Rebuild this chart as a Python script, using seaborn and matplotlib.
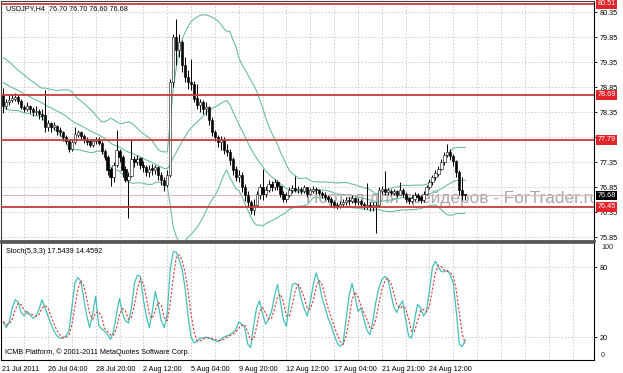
import numpy as np
import pandas as pd
import matplotlib
matplotlib.use("Agg")
import matplotlib.pyplot as plt
import seaborn as sns

# ---------------- data ----------------
symbol_title = "USDJPY,H4  76.70 76.70 76.60 76.68"
stoch_title = "Stoch(5,3,3) 17.5439 14.4592"
copyright_text = "ICMB Platform, \u00a9 2001-2011 MetaQuotes Software Corp."
watermark = "\u041f\u043e\u0440\u0442\u0430\u043b \u0434\u043b\u044f \u0442\u0440\u0435\u0439\u0434\u0435\u0440\u043e\u0432 - ForTrader.ru"

opens = [78.70, 78.48, 78.55, 78.60, 78.62, 78.66, 78.58, 78.45, 78.42, 78.47,
         78.40, 78.35, 78.38, 78.32, 78.30, 78.05, 78.12, 78.05, 78.08, 77.98,
         77.95, 77.85, 77.78, 77.62, 77.75, 77.90, 77.95, 77.88, 77.80, 77.76,
         77.70, 77.78, 77.82, 77.74, 77.58, 77.45, 77.20, 77.05, 77.30, 77.58,
         77.45, 77.20, 77.00, 77.08, 77.40, 77.35, 77.42, 77.30, 77.25, 77.15,
         77.22, 77.18, 77.25, 77.10, 77.00, 76.90, 77.10, 78.95, 79.85, 79.60,
         79.75, 79.30, 79.05, 78.95, 78.90, 78.62, 78.50, 78.55, 78.40, 78.45,
         78.20, 77.95, 77.85, 77.75, 77.80, 77.60, 77.55, 77.40, 77.20, 77.05,
         77.10, 76.85, 76.70, 76.55, 76.40, 76.50, 76.70, 76.85, 76.72, 76.80,
         76.92, 76.85, 76.95, 76.88, 76.72, 76.62, 76.68, 76.80, 76.84, 76.80,
         76.82, 76.78, 76.84, 76.72, 76.78, 76.82, 76.80, 76.74, 76.70, 76.66,
         76.62, 76.55, 76.50, 76.48, 76.52, 76.55, 76.60, 76.58, 76.62, 76.56,
         76.58, 76.52, 76.48, 76.50, 76.45, 76.48, 76.50, 76.78, 76.82, 76.75,
         76.78, 76.74, 76.76, 76.70, 76.80, 76.72, 76.62, 76.58, 76.62, 76.70,
         76.66, 76.60, 76.72, 76.85, 76.95, 77.05, 77.12, 77.22, 77.35, 77.50,
         77.55, 77.48, 77.38, 77.15, 76.80, 76.70]
highs = [78.83, 78.62, 78.68, 78.72, 78.74, 78.70, 78.62, 78.50, 78.55, 78.50,
         78.45, 78.48, 78.42, 78.40, 78.80, 78.18, 78.15, 78.16, 78.10, 78.05,
         77.98, 77.90, 77.82, 77.80, 78.05, 78.00, 77.98, 77.92, 77.85, 77.80,
         77.82, 77.86, 77.85, 77.78, 77.62, 77.50, 77.25, 77.35, 78.00, 77.62,
         77.50, 77.28, 77.15, 77.81, 77.48, 77.50, 77.45, 77.38, 77.30, 77.30,
         77.32, 77.30, 77.28, 77.15, 77.05, 77.20, 79.02, 79.92, 80.21, 79.92,
         79.80, 79.45, 79.20, 79.40, 78.98, 78.92, 78.62, 78.60, 78.55, 78.48,
         78.25, 78.00, 77.90, 77.88, 77.85, 77.72, 77.62, 77.45, 77.28, 77.20,
         77.15, 76.92, 76.78, 76.60, 76.62, 76.78, 76.92, 77.21, 76.88, 77.00,
         76.98, 77.02, 77.00, 76.90, 76.78, 76.75, 76.85, 76.90, 77.07, 76.88,
         76.86, 76.90, 76.86, 76.84, 76.88, 76.86, 76.82, 76.78, 76.75, 76.70,
         76.66, 76.60, 76.56, 76.58, 76.62, 76.66, 76.65, 76.68, 76.65, 76.64,
         76.62, 76.56, 76.94, 76.55, 76.55, 76.56, 76.85, 76.88, 77.17, 76.84,
         76.82, 76.82, 76.80, 76.95, 76.84, 76.75, 76.66, 76.70, 76.76, 76.74,
         76.70, 76.78, 76.90, 77.02, 77.10, 77.20, 77.28, 77.42, 77.56, 77.71,
         77.62, 77.52, 77.40, 77.20, 77.04, 76.70]
lows = [78.33, 78.42, 78.50, 78.55, 78.58, 78.52, 78.40, 78.36, 78.38, 78.34,
        78.28, 78.30, 78.22, 78.20, 77.95, 77.98, 77.95, 78.00, 77.90, 77.88,
        77.78, 77.72, 77.55, 77.58, 77.72, 77.85, 77.82, 77.74, 77.70, 77.66,
        77.66, 77.72, 77.70, 77.52, 77.40, 77.10, 76.88, 76.95, 77.25, 77.35,
        77.05, 76.95, 76.24, 77.05, 77.25, 77.30, 77.22, 77.15, 77.08, 77.05,
        77.10, 77.12, 77.00, 76.90, 76.78, 76.85, 77.05, 78.85, 79.30, 79.45,
        79.15, 78.95, 78.82, 78.80, 78.56, 78.40, 78.35, 78.32, 78.30, 78.10,
        77.88, 77.78, 77.65, 77.60, 77.52, 77.48, 77.30, 77.10, 76.98, 76.95,
        76.75, 76.58, 76.45, 76.32, 76.30, 76.45, 76.62, 76.60, 76.65, 76.75,
        76.78, 76.80, 76.80, 76.65, 76.55, 76.56, 76.65, 76.74, 76.75, 76.74,
        76.72, 76.74, 76.66, 76.68, 76.74, 76.72, 76.68, 76.64, 76.60, 76.56,
        76.48, 76.44, 76.42, 76.44, 76.46, 76.50, 76.50, 76.54, 76.50, 76.50,
        76.46, 76.42, 76.42, 76.38, 76.38, 75.93, 76.45, 76.72, 76.70, 76.70,
        76.68, 76.70, 76.65, 76.68, 76.66, 76.56, 76.52, 76.54, 76.58, 76.58,
        76.54, 76.56, 76.68, 76.82, 76.90, 77.00, 77.08, 77.18, 77.30, 77.45,
        77.40, 77.28, 77.05, 76.70, 76.60, 76.60]
closes = [78.48, 78.55, 78.60, 78.62, 78.66, 78.58, 78.45, 78.42, 78.47, 78.40,
          78.35, 78.38, 78.32, 78.28, 78.05, 78.12, 78.05, 78.08, 77.98, 77.95,
          77.85, 77.78, 77.62, 77.75, 77.90, 77.95, 77.88, 77.80, 77.76, 77.70,
          77.78, 77.82, 77.74, 77.58, 77.45, 77.20, 77.05, 77.30, 77.58, 77.45,
          77.20, 77.00, 77.08, 77.40, 77.35, 77.42, 77.30, 77.25, 77.15, 77.22,
          77.18, 77.25, 77.10, 77.00, 76.90, 77.10, 78.95, 79.85, 79.60, 79.75,
          79.30, 79.05, 78.95, 78.90, 78.62, 78.50, 78.55, 78.40, 78.45, 78.20,
          77.95, 77.85, 77.75, 77.80, 77.60, 77.55, 77.40, 77.20, 77.05, 77.10,
          76.85, 76.70, 76.55, 76.40, 76.50, 76.70, 76.85, 76.72, 76.80, 76.92,
          76.85, 76.95, 76.88, 76.72, 76.62, 76.68, 76.80, 76.84, 76.80, 76.82,
          76.78, 76.84, 76.72, 76.78, 76.82, 76.80, 76.74, 76.70, 76.66, 76.62,
          76.55, 76.50, 76.48, 76.52, 76.55, 76.60, 76.58, 76.62, 76.56, 76.58,
          76.52, 76.48, 76.50, 76.45, 76.48, 76.50, 76.78, 76.82, 76.75, 76.78,
          76.74, 76.76, 76.70, 76.80, 76.72, 76.62, 76.58, 76.62, 76.70, 76.66,
          76.60, 76.72, 76.85, 76.95, 77.05, 77.12, 77.22, 77.35, 77.50, 77.55,
          77.48, 77.38, 77.15, 76.80, 76.70, 76.68]
# closes before the first visible bar (feed the Bollinger window)
prior_closes = [79.30, 79.28, 79.25, 79.22, 79.18, 79.15, 79.10, 79.06, 79.02, 78.98,
                78.94, 78.90, 78.86, 78.80, 78.76, 78.72, 78.66, 78.62, 78.55]

stoch_k = [33, 28, 33, 45, 52, 50, 41, 38, 42, 39,
           36, 38, 44, 52, 45, 38, 31, 25, 21, 19,
           19, 21, 25, 45, 66, 71, 68, 53, 38, 28,
           40, 55, 30, 27, 25, 22, 18, 25, 40, 53,
           40, 34, 32, 45, 66, 73, 72, 52, 38, 28,
           42, 59, 48, 34, 28, 40, 78, 93, 93, 86,
           78, 62, 38, 20, 15, 16, 19, 19, 20, 19,
           18, 17, 16, 18, 20, 21, 22, 24, 26, 33,
           31, 28, 14, 11, 30, 45, 51, 40, 31, 35,
           42, 55, 65, 50, 35, 29, 50, 65, 66, 64,
           52, 44, 38, 50, 65, 75, 66, 53, 45, 36,
           30, 22, 15, 12, 14, 35, 55, 66, 55, 42,
           45, 35, 26, 22, 34, 50, 62, 69, 72, 70,
           58, 46, 41, 47, 51, 35, 21, 19, 35, 48,
           45, 38, 42, 60, 80, 85, 80, 76, 76, 77,
           73, 66, 42, 14, 11.8, 17.5439]

level_prices = [80.51, 78.69, 77.79, 76.45]
level_labels = ["80.51", "78.69", "77.79", "76.45"]
bid_price = 76.68
bid_label = "76.68"
price_ticks = [80.35, 79.85, 79.35, 78.85, 78.35, 77.85, 77.35, 76.85, 76.35, 75.85]

time_label_bars = [-0.4, 15, 31, 47, 63, 79, 95, 111, 127, 143]
time_labels = ["21 Jul 2011", "26 Jul 04:00", "28 Jul 20:00", "2 Aug 12:00",
               "5 Aug 04:00", "9 Aug 20:00", "12 Aug 12:00", "17 Aug 04:00",
               "21 Aug 21:00", "24 Aug 12:00"]

# ---------------- indicators ----------------
n = len(closes)
bars = np.arange(n)
all_close = pd.Series(prior_closes + closes)
mid = all_close.rolling(20).mean().iloc[len(prior_closes):].to_numpy()
sd = all_close.rolling(20).std(ddof=0).iloc[len(prior_closes):].to_numpy()
upper = mid + 2 * sd
lower = mid - 2 * sd
k = pd.Series(stoch_k, dtype=float)
d = k.rolling(3, min_periods=1).mean()

# ---------------- style ----------------
sns.set_style("white")
plt.rcParams["font.family"] = ["Liberation Sans", "DejaVu Sans"]

W, H = 623, 373
fig = plt.figure(figsize=(W / 100, H / 100), dpi=100)
fig.patch.set_facecolor("white")


def rect(l, t, r, b):
    return [l / W, 1 - b / H, (r - l) / W, (b - t) / H]


ax = fig.add_axes(rect(1, 1, 594, 241))
ax2 = fig.add_axes(rect(1, 243, 594, 360))

xlim = (-0.77, 198.2)
grid_col = "#c8c8c8"
grid_ls = (0, (2, 2))
grid_x = np.arange(7, 199, 8)

band_col = "#6cbf9c"
txt_fs = 5.2

# ----- main panel -----
ax.set_xlim(*xlim)
ax.set_ylim(75.77, 80.57)
for gx in grid_x:
    ax.axvline(gx, color=grid_col, lw=0.6, ls=grid_ls, zorder=0)
for py in price_ticks:
    ax.axhline(py, color=grid_col, lw=0.6, ls=grid_ls, zorder=0)

ax.text(101.6, 76.53, watermark, fontsize=12.4, color="#a8a8a8",
        ha="left", va="baseline", zorder=1, clip_on=True)

for series in (upper, mid, lower):
    sns.lineplot(x=bars, y=series, ax=ax, color=band_col, lw=0.8, zorder=2)

o = np.array(opens); h = np.array(highs); lo = np.array(lows); c = np.array(closes)
ax.vlines(bars, lo, h, color="black", lw=0.7, zorder=3)
bull = c >= o
body_b = np.minimum(o, c)
body_h = np.maximum(np.abs(c - o), 0.012)
ax.bar(bars[bull], body_h[bull], bottom=body_b[bull], width=0.75,
       facecolor="white", edgecolor="#222222", lw=0.45, zorder=4)
ax.bar(bars[~bull], body_h[~bull], bottom=body_b[~bull], width=0.75,
       facecolor="black", edgecolor="black", lw=0.45, zorder=4)

ax.axhline(bid_price, color="#dcb4b4", lw=0.7, zorder=2.5)
for lp in level_prices:
    ax.axhline(lp, color="#c83a3a", lw=1.3, zorder=5)

ax.yaxis.tick_right()
ax.set_yticks(price_ticks)
ax.set_yticklabels([f"{p:.2f}" for p in price_ticks])
ax.tick_params(axis="y", direction="out", length=2.5, width=0.6, pad=1.5,
               labelsize=txt_fs, colors="black")
ax.set_xticks([])
ax.set_xlabel(""); ax.set_ylabel("")
for s in ("top", "left"):
    ax.spines[s].set_color("#404040"); ax.spines[s].set_linewidth(0.8)
ax.spines["right"].set_color("black"); ax.spines["right"].set_linewidth(0.8)
ax.spines["bottom"].set_color("#555555"); ax.spines["bottom"].set_linewidth(2.0)

for lp, lab in zip(level_prices, level_labels):
    ax.text(1.006, lp, lab, transform=ax.get_yaxis_transform(), fontsize=txt_fs,
            color="white", ha="left", va="center", clip_on=False, zorder=10,
            bbox=dict(boxstyle="square,pad=0.15", fc="#e0242a", ec="none"))
ax.text(1.006, bid_price, bid_label, transform=ax.get_yaxis_transform(), fontsize=txt_fs,
        color="white", ha="left", va="center", clip_on=False, zorder=10,
        bbox=dict(boxstyle="square,pad=0.15", fc="black", ec="none"))

ax.text(0.008, 0.985, symbol_title, transform=ax.transAxes, fontsize=txt_fs,
        ha="left", va="top", color="black", zorder=11)

# ----- stochastic panel -----
ax2.set_xlim(*xlim)
ax2.set_ylim(0.3, 100.6)
for gx in grid_x:
    ax2.axvline(gx, color=grid_col, lw=0.6, ls=grid_ls, zorder=0)
for gy in (20, 80):
    ax2.axhline(gy, color=grid_col, lw=0.6, ls=grid_ls, zorder=0)

sns.lineplot(x=bars, y=k.to_numpy(), ax=ax2, color="#45c0b8", lw=0.9, zorder=3)
sns.lineplot(x=bars, y=d.to_numpy(), ax=ax2, color="#d43c3c", lw=0.8, zorder=4,
             linestyle=(0, (2, 1.6)))

ax2.yaxis.tick_right()
ax2.set_yticks([20, 80])
ax2.set_yticklabels(["20", "80"])
ax2.tick_params(axis="y", direction="out", length=2.5, width=0.6, pad=1.5,
                labelsize=txt_fs, colors="black")
ax2.text(1.012, 99.5, "100", transform=ax2.get_yaxis_transform(), fontsize=txt_fs,
         ha="left", va="top", clip_on=False)
ax2.text(1.012, 1.5, "0", transform=ax2.get_yaxis_transform(), fontsize=txt_fs,
         ha="left", va="bottom", clip_on=False)

ax2.set_xticks(time_label_bars)
ax2.set_xticklabels(time_labels)
for t in ax2.get_xticklabels():
    t.set_ha("left")
ax2.tick_params(axis="x", direction="out", length=3, width=0.6, pad=1.0,
                labelsize=txt_fs, colors="black")
ax2.set_xlabel(""); ax2.set_ylabel("")
ax2.spines["top"].set_color("#555555"); ax2.spines["top"].set_linewidth(1.2)
for s in ("left", "right", "bottom"):
    ax2.spines[s].set_color("black"); ax2.spines[s].set_linewidth(0.8)

ax2.text(0.008, 0.955, stoch_title, transform=ax2.transAxes, fontsize=txt_fs,
         ha="left", va="top", color="black")
ax2.text(0.006, 0.03, copyright_text, transform=ax2.transAxes, fontsize=txt_fs,
         ha="left", va="bottom", color="black")

fig.savefig("out.png", dpi=100, facecolor="white")
